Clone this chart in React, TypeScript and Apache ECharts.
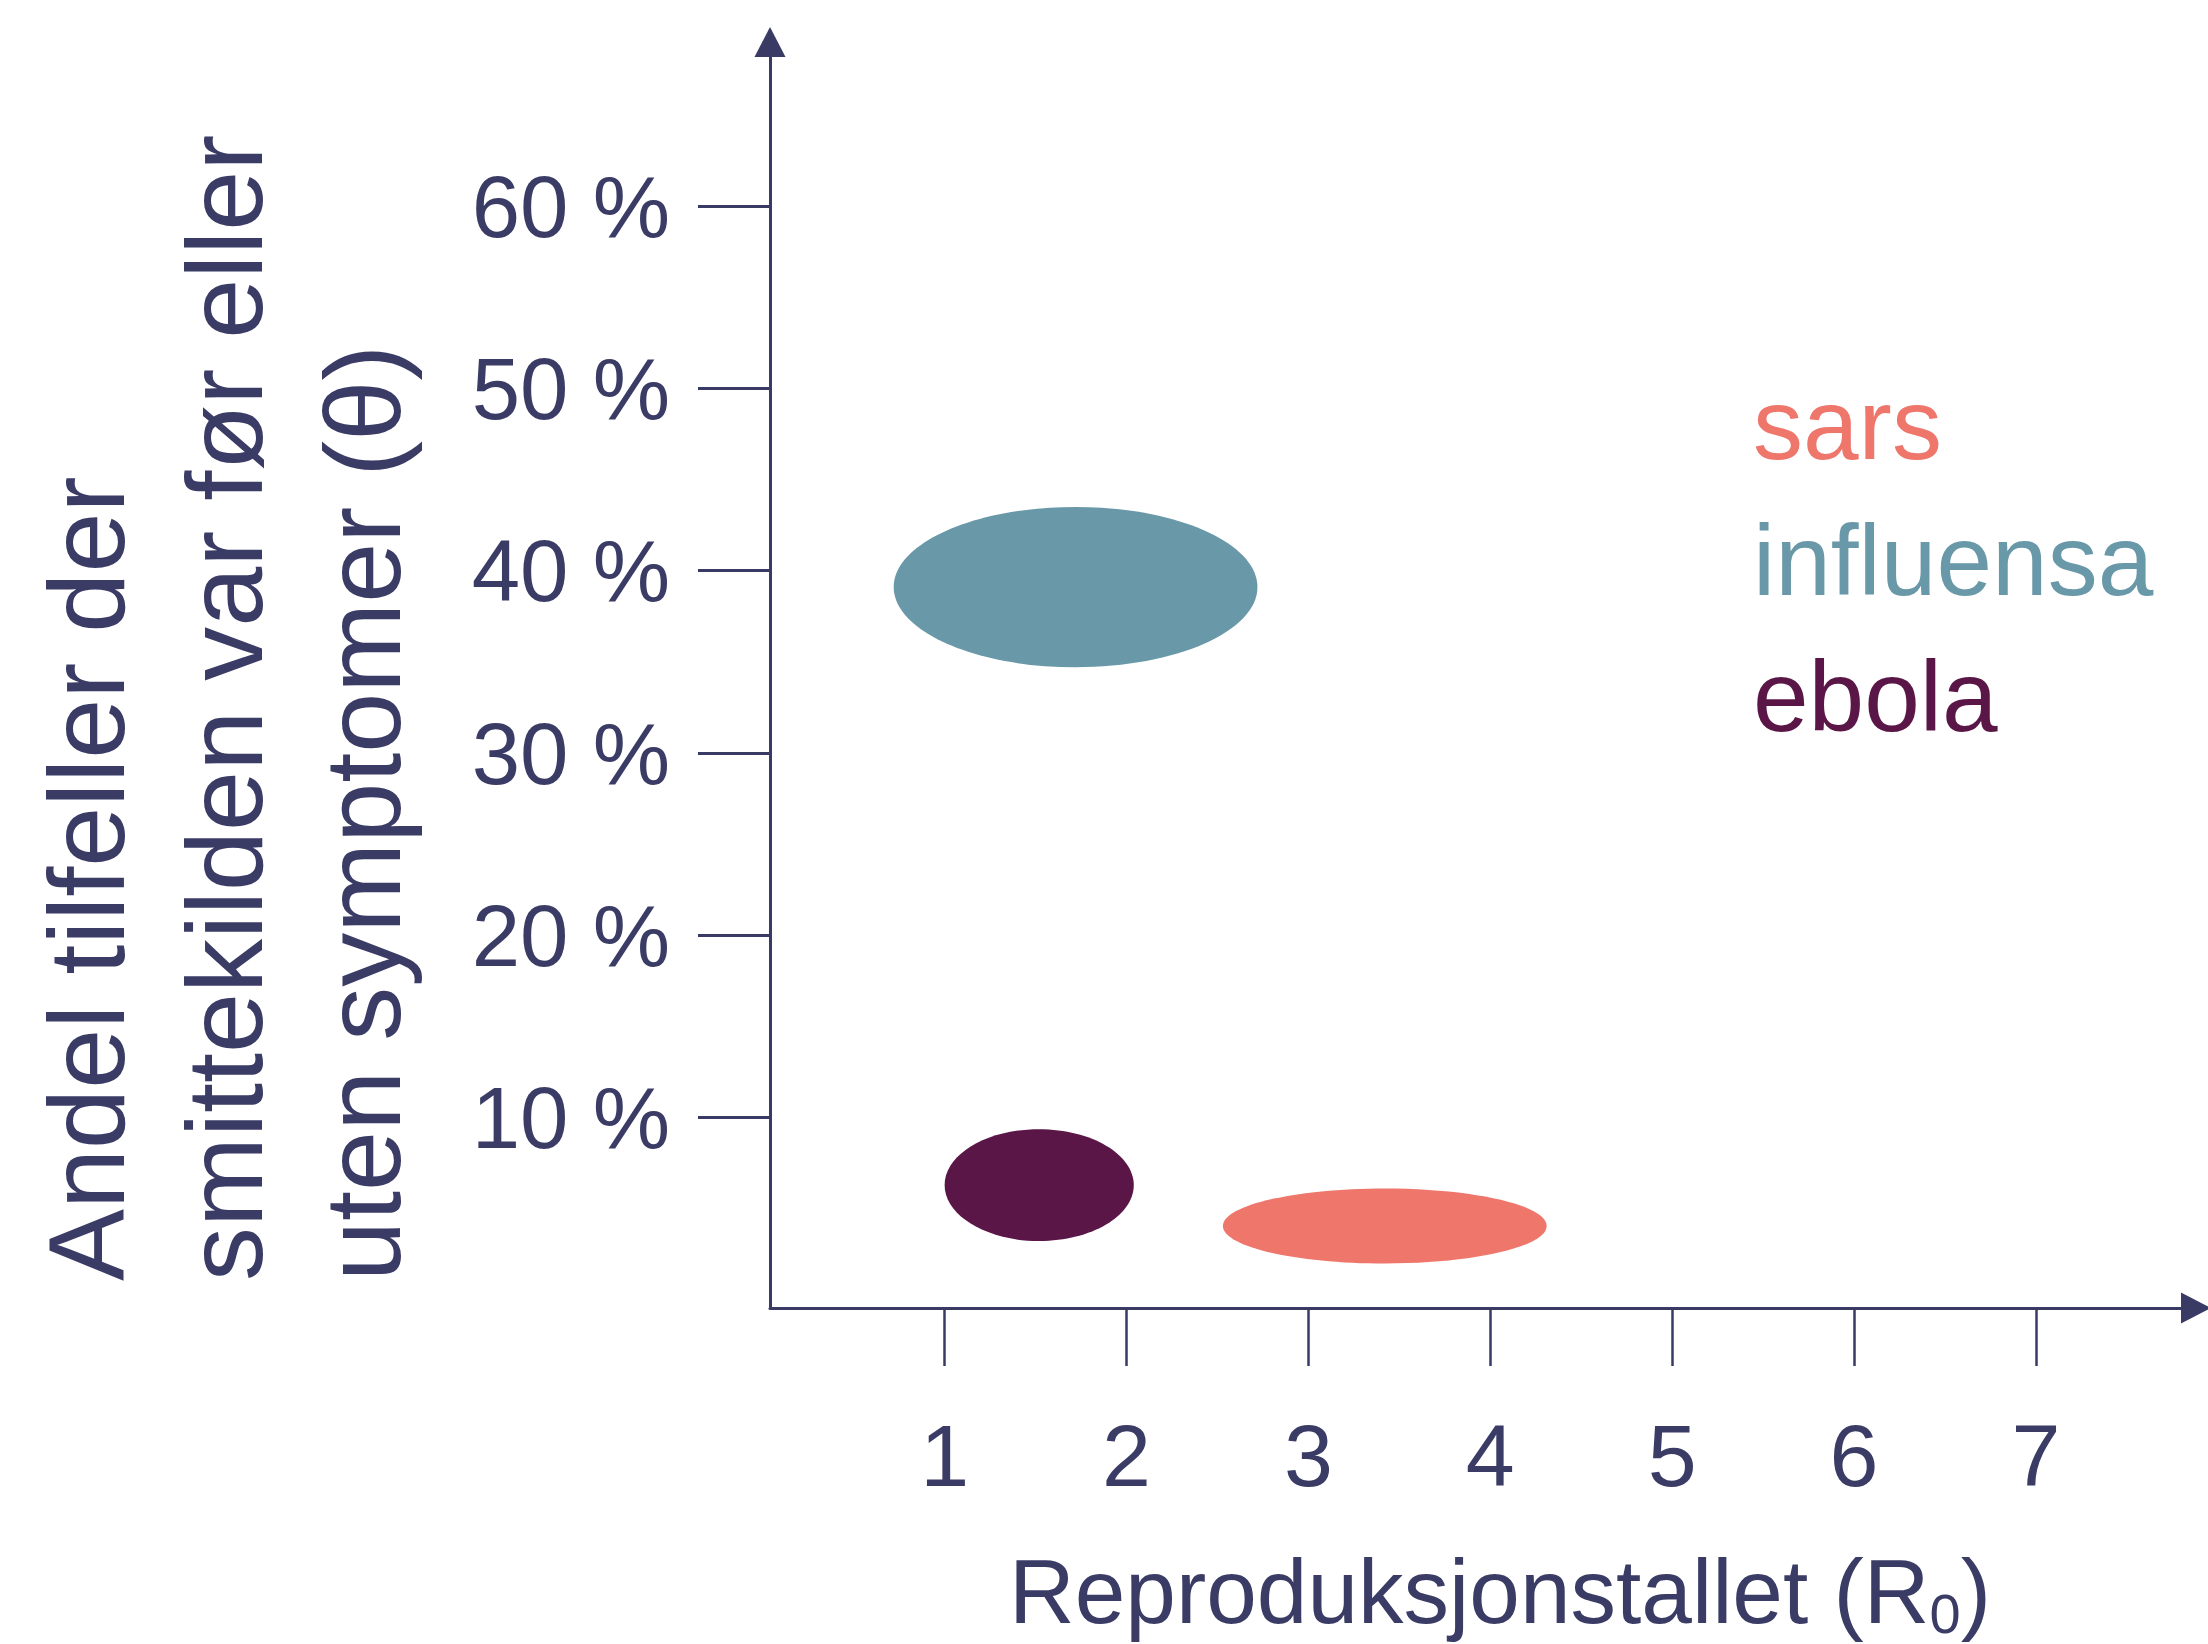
import React, { useEffect, useRef } from "react";
import * as echarts from "echarts";

// ---- data ----
const xTickValues = [1, 2, 3, 4, 5, 6, 7];
const yTickValues = [10, 20, 30, 40, 50, 60];
const diseases = ["sars", "influensa", "ebola"];
// ellipse centres and half-extents, in axis units (R0, % of cases)
const centerR0 = [3.42, 1.72, 1.52];
const halfWidthR0 = [0.89, 1.0, 0.52];
const centerTheta = [4.06, 39.1, 6.3];
const halfHeightTheta = [2.06, 4.4, 3.07];
const yNameLines = [
  "Andel tilfeller der",
  "smittekilden var før eller",
  "uten symptomer (θ)",
];
const xNameMain = "Reproduksjonstallet (R";
const xNameSub = "0";

// ---- styles ----
const diseaseColors = ["#EE766B", "#6998A8", "#5A1646"];
const axisColor = "#3A3B65";
const textColor = "#3B3C66";
const fontFamily = "'Liberation Sans', Arial, sans-serif";

export default function App() {
  const ref = useRef<HTMLDivElement>(null);

  useEffect(() => {
    document.body.style.margin = "0";
    if (!ref.current) return;
    const chart = echarts.init(ref.current, undefined, { renderer: "svg" });

    const series = diseases.map((name, i) => ({
      type: "custom",
      name,
      encode: { x: 0, y: 1 },
      data: [[centerR0[i], centerTheta[i], halfWidthR0[i], halfHeightTheta[i]]],
      renderItem: (params: any, api: any) => {
        const c = api.coord([api.value(0), api.value(1)]);
        const s = api.size([api.value(2), api.value(3)]);
        return {
          type: "ellipse",
          shape: { cx: c[0], cy: c[1], rx: s[0], ry: s[1] },
          style: { fill: diseaseColors[i] },
        };
      },
    }));

    const legendBaselines = [459, 595, 731];
    const legendFont = 100;

    chart.setOption({
      animation: false,
      backgroundColor: "#ffffff",
      grid: {
        left: 770,
        top: 42,
        width: 1426,
        height: 1266,
        outerBoundsMode: "none",
      },
      xAxis: {
        type: "value",
        min: 0.04,
        max: 7.88,
        splitLine: { show: false },
        axisLine: {
          show: true,
          onZero: false,
          symbol: ["none", "triangle"],
          symbolSize: [31, 30],
          lineStyle: { color: axisColor, width: 3 },
        },
        axisTick: {
          show: true,
          length: 58,
          customValues: xTickValues,
          lineStyle: { color: axisColor, width: 2.5 },
        },
        axisLabel: {
          customValues: xTickValues,
          margin: 147,
          verticalAlign: "middle",
          fontSize: 88,
          fontFamily,
          color: textColor,
        },
      },
      yAxis: {
        type: "value",
        min: -0.44,
        max: 69,
        splitLine: { show: false },
        axisLine: {
          show: true,
          onZero: false,
          symbol: ["none", "triangle"],
          symbolSize: [31, 30],
          lineStyle: { color: axisColor, width: 3 },
        },
        axisTick: {
          show: true,
          length: 72,
          customValues: yTickValues,
          lineStyle: { color: axisColor, width: 3 },
        },
        axisLabel: {
          customValues: yTickValues,
          margin: 100,
          fontSize: 87,
          fontFamily,
          color: textColor,
          formatter: (v: number) => `${v} %`,
        },
      },
      graphic: [
        {
          type: "text",
          x: 17,
          y: 1281,
          rotation: Math.PI / 2,
          style: {
            text: yNameLines.join("\n"),
            fontSize: 108,
            lineHeight: 138,
            fontFamily,
            fill: textColor,
            align: "left",
            verticalAlign: "top",
          },
        },
        {
          type: "text",
          x: 1500,
          y: 1591,
          style: {
            text: `{m|${xNameMain}}{s|${xNameSub}}{m|)}`,
            align: "center",
            verticalAlign: "middle",
            fontFamily,
            fill: textColor,
            rich: {
              m: { fontSize: 91, lineHeight: 100, fontFamily, fill: textColor, color: textColor },
              s: {
                fontSize: 56,
                lineHeight: 46,
                verticalAlign: "bottom",
                fontFamily,
                fill: textColor,
                color: textColor,
              },
            },
          },
        },
        ...diseases.map((name, i) => ({
          type: "text",
          x: 1753,
          y: legendBaselines[i] - 0.3465 * legendFont,
          style: {
            text: name,
            fontSize: legendFont,
            fontFamily,
            fill: diseaseColors[i],
            align: "left",
            verticalAlign: "middle",
          },
        })),
      ],
      series,
    });

    return () => chart.dispose();
  }, []);

  return (
    <div
      ref={ref}
      style={{ position: "absolute", left: 0, top: 0, width: 2208, height: 1644 }}
    />
  );
}
